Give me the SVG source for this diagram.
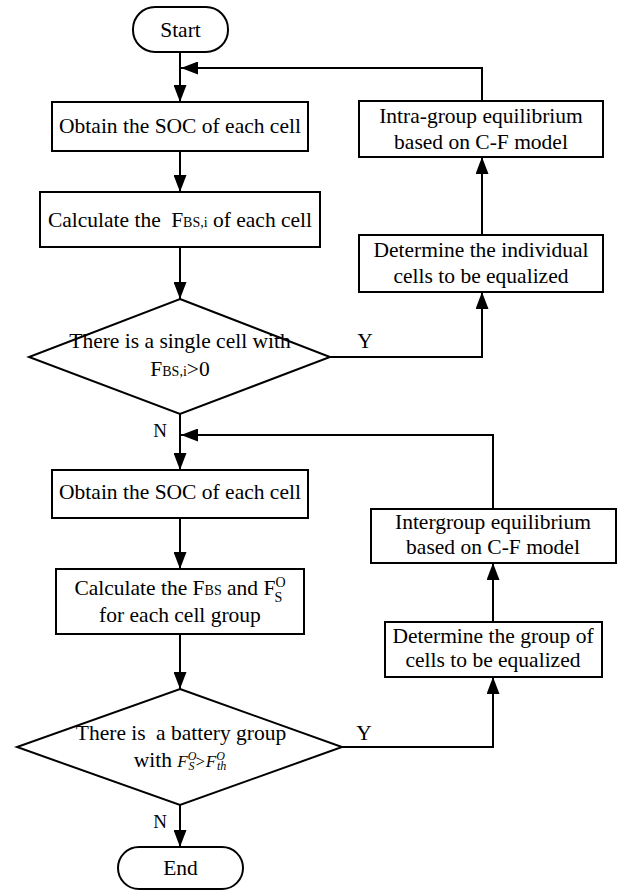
<svg xmlns="http://www.w3.org/2000/svg" width="621" height="891" viewBox="0 0 621 891">
<style>
.box{fill:#fff;stroke:#000;stroke-width:2}
.ln{fill:none;stroke:#000;stroke-width:2}
text{font-family:"Liberation Serif","Times New Roman",serif;font-size:21.5px;fill:#000;text-anchor:middle}
.sm{font-size:14px}
.m{font-style:italic;font-size:17px}
.ms{font-style:italic;font-size:12px}
</style>
<defs>
<marker id="ah" markerUnits="userSpaceOnUse" markerWidth="17" markerHeight="13" refX="17" refY="6.5" orient="auto">
<path d="M0,0 L17,6.5 L0,13 z" fill="#000"/>
</marker>
</defs>
<rect width="621" height="891" fill="#fff"/>
<g id="connectors">
<line class="ln" x1="180" y1="52" x2="180" y2="102" marker-end="url(#ah)"/>
<line class="ln" x1="180" y1="151" x2="180" y2="192" marker-end="url(#ah)"/>
<line class="ln" x1="180" y1="247" x2="180" y2="299" marker-end="url(#ah)"/>
<polyline class="ln" points="330,357 482,357 482,292" marker-end="url(#ah)"/>
<line class="ln" x1="482" y1="235" x2="482" y2="157" marker-end="url(#ah)"/>
<polyline class="ln" points="482,101 482,68 181,68" marker-end="url(#ah)"/>
<line class="ln" x1="180" y1="414" x2="180" y2="470" marker-end="url(#ah)"/>
<polyline class="ln" points="493,509 493,435 181,435" marker-end="url(#ah)"/>
<line class="ln" x1="180" y1="518" x2="180" y2="569" marker-end="url(#ah)"/>
<line class="ln" x1="180" y1="634" x2="180" y2="689" marker-end="url(#ah)"/>
<polyline class="ln" points="342,747 493,747 493,677" marker-end="url(#ah)"/>
<line class="ln" x1="493" y1="622" x2="493" y2="563" marker-end="url(#ah)"/>
<line class="ln" x1="180" y1="805" x2="180" y2="847" marker-end="url(#ah)"/>
<text x="365" y="348">Y</text>
<text x="160" y="437" style="font-size:19px">N</text>
<text x="364" y="740">Y</text>
<text x="160" y="828" style="font-size:19px">N</text>
</g>
<g id="start">
<rect class="box" x="133" y="7" width="95" height="45" rx="22" ry="22"/>
<text x="180.5" y="37">Start</text>
</g>
<g id="obtain1">
<rect class="box" x="52" y="102" width="256" height="49"/>
<text x="180" y="133">Obtain the SOC of each cell</text>
</g>
<g id="calc1">
<rect class="box" x="40" y="192" width="280" height="55"/>
<text x="180" y="227">Calculate the <tspan dx="5">F</tspan><tspan class="sm">BS,i</tspan> of each cell</text>
</g>
<g id="decision1">
<polygon class="box" points="180,299 330,357 180,414 29,357"/>
<text x="180" y="348">There is a single cell with</text>
<text x="180" y="376">F<tspan class="sm">BS,i</tspan>&gt;0</text>
</g>
<g id="determine1">
<rect class="box" x="359" y="235" width="244" height="57"/>
<text x="481" y="257">Determine the individual</text>
<text x="481" y="283">cells to be equalized</text>
</g>
<g id="intra">
<rect class="box" x="359" y="101" width="244" height="56"/>
<text x="481" y="123">Intra-group equilibrium</text>
<text x="481" y="149">based on C-F model</text>
</g>
<g id="obtain2">
<rect class="box" x="52" y="470" width="256" height="48"/>
<text x="180" y="499">Obtain the SOC of each cell</text>
</g>
<g id="calc2">
<rect class="box" x="56" y="569" width="248" height="65"/>
<text x="180" y="595">Calculate the F<tspan class="sm">BS</tspan> and F<tspan class="sm" dy="-8">O</tspan><tspan class="sm" dx="-11" dy="15">S</tspan></text>
<text x="180" y="622">for each cell group</text>
</g>
<g id="decision2">
<polygon class="box" points="180,689 342,747 180,805 17,747"/>
<text x="181" y="740">There is <tspan dx="5">a battery group</tspan></text>
<text x="180" y="767">with <tspan class="m">F</tspan><tspan class="ms" dy="-7">O</tspan><tspan class="ms" dx="-8" dy="10">S</tspan><tspan class="m" dy="-3">&gt;F</tspan><tspan class="ms" dy="-7">O</tspan><tspan class="ms" dx="-8" dy="10">th</tspan></text>
</g>
<g id="intergroup">
<rect class="box" x="371" y="509" width="245" height="54"/>
<text x="493" y="529">Intergroup equilibrium</text>
<text x="493" y="554">based on C-F model</text>
</g>
<g id="determine2">
<rect class="box" x="385" y="622" width="217" height="55"/>
<text x="493" y="643">Determine the group of</text>
<text x="493" y="667">cells to be equalized</text>
</g>
<g id="end">
<rect class="box" x="118" y="847" width="125" height="42" rx="21" ry="21"/>
<text x="180.5" y="875">End</text>
</g>
</svg>
